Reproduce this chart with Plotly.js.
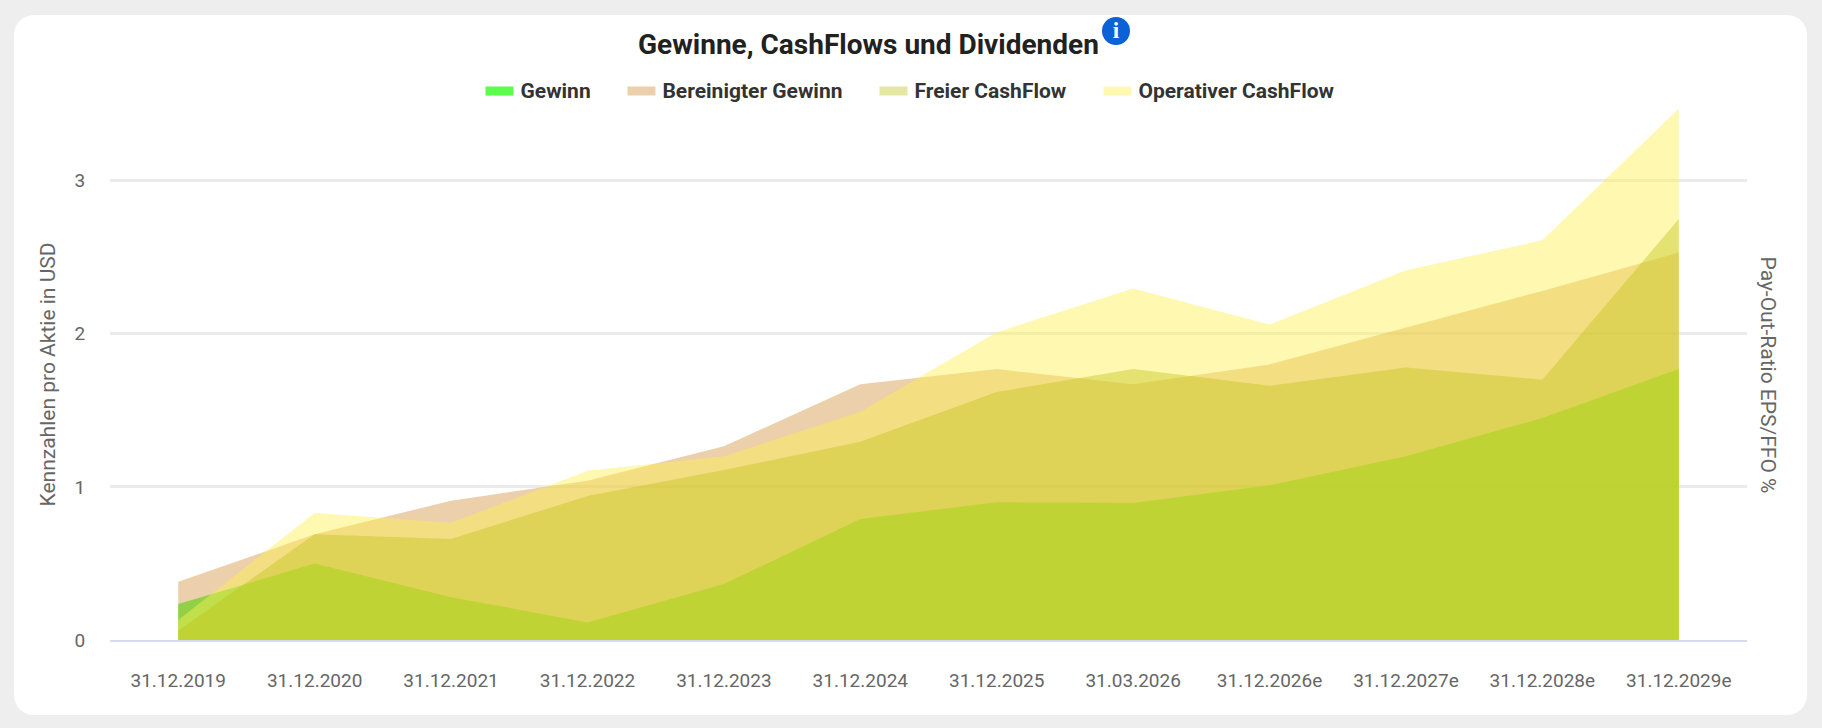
<!DOCTYPE html>
<html>
<head>
<meta charset="utf-8">
<script src="https://cdn.plot.ly/plotly-3.0.1.min.js"></script>
<style>
  html, body { margin: 0; padding: 0; width: 1822px; height: 728px; overflow: hidden; background: #eeeeee; }
  #card { position: absolute; left: 14px; top: 15px; width: 1793px; height: 700px; background: #fff; border-radius: 20px; }
  #myDiv { position: absolute; left: 0; top: 0; width: 1822px; height: 728px; }
  #info { position: absolute; left: 1102px; top: 17px; width: 28px; height: 28px; border-radius: 50%; background: #0b62d6;
          color: #fff; font: 900 23px/28px "Liberation Serif", serif; text-align: center; }
</style>
</head>
<body>
<div id="card"></div>
<div id="myDiv"></div>
<div id="info">i</div>
<script>
// kategorien
const datum = ["31.12.2019", "31.12.2020", "31.12.2021", "31.12.2022", "31.12.2023", "31.12.2024",
  "31.12.2025", "31.03.2026", "31.12.2026e", "31.12.2027e", "31.12.2028e", "31.12.2029e"];

// werte pro aktie
const gewinn = [0.235, 0.50, 0.28, 0.115, 0.365, 0.79, 0.90, 0.895, 1.01, 1.20, 1.45, 1.77];
const bereinigt = [0.38, 0.69, 0.91, 1.04, 1.265, 1.67, 1.77, 1.67, 1.80, 2.04, 2.28, 2.53];
const freierCF = [0.06, 0.69, 0.66, 0.94, 1.11, 1.295, 1.62, 1.77, 1.66, 1.78, 1.70, 2.75];
const operativCF = [0.13, 0.83, 0.765, 1.105, 1.20, 1.49, 2.01, 2.295, 2.06, 2.415, 2.61, 3.47];

function area(name, werte, farbe, legende) {
  return {
    x: datum,
    y: werte,
    name: name,
    type: "scatter",
    mode: "lines",
    fill: "tozeroy",
    fillcolor: farbe,
    line: { width: 0 },
    legend: legende,
    hoverinfo: "x+y"
  };
}

// freier cashflow liegt im original ueber dem operativen
const data = [
  area("Gewinn", gewinn, "rgba(50,255,30,0.8)", "legend"),
  area("Bereinigter Gewinn", bereinigt, "rgba(211,151,69,0.45)", "legend2"),
  area("Operativer CashFlow", operativCF, "rgba(253,240,80,0.45)", "legend4"),
  area("Freier CashFlow", freierCF, "rgba(190,195,20,0.4)", "legend3")
];

// jede legende einzeln, die abstaende im original sind nicht gleich
function legende(links) {
  return {
    x: (links - 109.5) / 1637.1,
    xanchor: "left",
    y: 1.036,
    yanchor: "middle",
    bgcolor: "rgba(0,0,0,0)",
    font: { family: "Roboto, sans-serif", size: 21, color: "#333333", weight: 700 },
    itemwidth: 30
  };
}

const layout = {
  width: 1822,
  height: 728,
  margin: { l: 109.5, r: 75.4, t: 108.5, b: 87.5 },
  paper_bgcolor: "rgba(0,0,0,0)",
  plot_bgcolor: "rgba(0,0,0,0)",
  font: { family: "Roboto, sans-serif", color: "#666666" },
  title: {
    text: "<b>Gewinne, CashFlows und Dividenden</b>",
    font: { family: "Roboto, sans-serif", size: 28, color: "#212121" },
    x: 638 / 1822,
    xref: "container",
    xanchor: "left",
    y: 1 - 44 / 728,
    yref: "container",
    yanchor: "middle"
  },
  showlegend: true,
  legend: legende(480),
  legend2: legende(622),
  legend3: legende(874),
  legend4: legende(1098),
  xaxis: {
    type: "category",
    categoryorder: "array",
    categoryarray: datum,
    range: [-0.5, 11.5],
    showgrid: false,
    zeroline: false,
    showline: true,
    linecolor: "#d5daec",
    linewidth: 2,
    ticks: "outside",
    ticklen: 22,
    tickcolor: "rgba(0,0,0,0)",
    tickfont: { size: 19, color: "#666666" },
    tickangle: 0
  },
  yaxis: {
    range: [0, 3.468],
    tickvals: [0, 1, 2, 3],
    showgrid: true,
    gridcolor: "#ebebeb",
    gridwidth: 2.5,
    zeroline: false,
    ticks: "outside",
    ticklen: 20,
    tickcolor: "rgba(0,0,0,0)",
    tickfont: { size: 19, color: "#666666" },
    title: { text: "Kennzahlen pro Aktie in USD", font: { size: 21, color: "#666666" }, standoff: 13 }
  },
  annotations: [{
    text: "Pay-Out-Ratio EPS/FFO %",
    xref: "paper",
    yref: "paper",
    x: 1,
    y: 0.5,
    xshift: 35,
    showarrow: false,
    textangle: 90,
    font: { size: 21, color: "#666666" }
  }]
};

Plotly.newPlot("myDiv", data, layout, { displayModeBar: false }).then(function () {
  // legendensymbole sind im original hoeher als die 6px von plotly
  document.querySelectorAll(".legendfill path").forEach(function (p) {
    p.setAttribute("d", "M5,-3h28v9h-28z");
  });
});
</script>
</body>
</html>
